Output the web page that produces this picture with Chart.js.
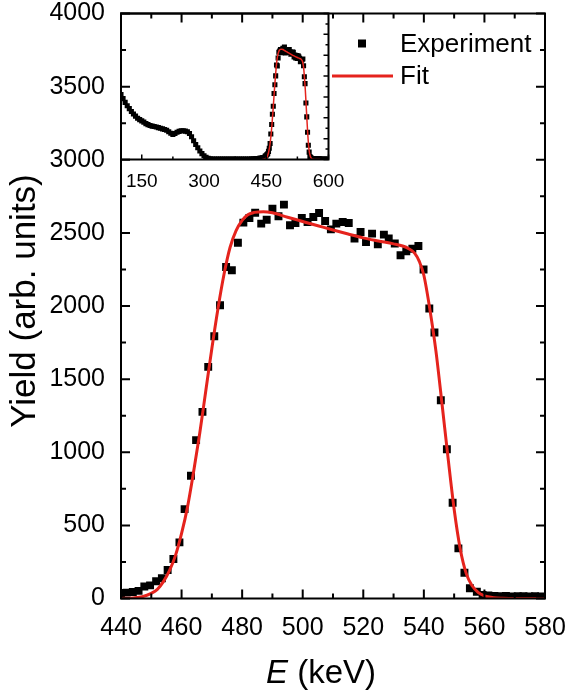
<!DOCTYPE html>
<html lang="en">
<head>
<meta charset="UTF-8">
<title>Yield vs E</title>
<script src="https://cdn.jsdelivr.net/npm/chart.js@4.4.1/dist/chart.umd.min.js"></script>
<style>
  body { margin: 0; background: #fff; }
  #wrap { position: relative; width: 568px; height: 695px; }
  #main { position: absolute; left: 0; top: 0; }
  #inset { position: absolute; left: 100px; top: 0; }
</style>
</head>
<body>
<div id="wrap">
  <canvas id="main" width="568" height="695"></canvas>
  <canvas id="inset" width="250" height="200"></canvas>
</div>
<script>
// measured points (main panel)
const expEnergy = [440.0, 441.9, 443.9, 445.8, 447.7, 449.6, 451.6, 453.5, 455.4, 457.3,
  459.3, 461.0, 463.1, 464.8, 466.9, 468.8, 470.8, 472.7, 474.7, 476.6,
  478.6, 480.4, 482.4, 484.3, 486.3, 488.1, 490.0, 492.0, 493.8, 495.8,
  497.6, 499.7, 501.6, 503.5, 505.4, 507.4, 509.3, 511.1, 513.2, 515.2,
  517.1, 519.1, 520.9, 522.9, 524.8, 526.8, 528.4, 530.4, 532.3, 534.2,
  536.2, 538.2, 539.9, 541.8, 543.5, 545.6, 547.6, 549.5, 551.4, 553.4,
  555.2, 557.5, 559.4, 561.3, 563.3, 565.2, 567.1, 569.0, 571.0, 572.9,
  574.8, 576.7, 578.7];
const expYield = [38, 40, 45, 52, 82, 90, 118, 138, 195, 270,
  384, 611, 839, 1083, 1276, 1584, 1793, 2005, 2267, 2244,
  2433, 2570, 2602, 2638, 2563, 2590, 2666, 2614, 2693, 2552,
  2567, 2602, 2574, 2608, 2636, 2581, 2524, 2563, 2574, 2567,
  2461, 2506, 2437, 2495, 2422, 2488, 2461, 2427, 2347, 2374,
  2392, 2410, 2249, 1983, 1819, 1356, 1021, 655, 343, 176,
  70, 46, 25, 20, 18, 15, 17, 14, 16, 15,
  14, 15, 14];

// fitted curve
const fitEnergy = [440, 444, 447, 450, 452, 454, 456, 458, 460, 462,
  464, 466, 468, 470, 472, 474, 476, 478, 480, 482,
  484, 487, 490, 495, 500, 505, 510, 515, 520, 525,
  530, 533, 535, 537, 538.5, 540, 542, 544, 546, 548,
  550, 552, 554, 556, 558, 560, 563, 566, 570, 580];
const fitYield = [0, 4, 12, 35, 62, 115, 190, 295, 445, 630,
  870, 1130, 1420, 1710, 1980, 2215, 2400, 2515, 2585, 2625,
  2640, 2645, 2637, 2607, 2578, 2549, 2520, 2492, 2466, 2445,
  2425, 2410, 2392, 2360, 2305, 2210, 1975, 1690, 1330, 960,
  610, 340, 170, 85, 40, 18, 6, 2, 0, 0];

// inset: the low energy part of the full spectrum
const lowEnergy = [100, 105, 110, 115, 120, 125, 130, 135, 140, 145,
  150, 155, 160, 165, 170, 175, 180, 185, 190, 195,
  200, 205, 210, 215, 220, 225, 230, 235, 240, 245,
  250, 255, 260, 265, 270, 275, 280, 285, 290, 295,
  300, 305, 310, 315, 320, 325, 330, 335, 340, 345,
  350, 355, 360, 365, 370, 375, 380, 385, 390, 395,
  400, 405, 410, 415, 420, 425, 430, 435];
const lowYield = [1560, 1460, 1370, 1290, 1220, 1150, 1090, 1040, 990, 955,
  925, 895, 860, 835, 815, 800, 790, 780, 765, 750,
  735, 720, 700, 665, 630, 600, 625, 655, 675, 690,
  690, 680, 665, 625, 545, 450, 360, 280, 205, 140,
  90, 52, 28, 16, 12, 10, 11, 9, 10, 12,
  10, 9, 11, 10, 10, 12, 11, 10, 9, 11,
  12, 13, 12, 14, 16, 20, 25, 32];
const tailEnergy = [582, 586, 590, 594, 598];
const tailYield = [12, 11, 10, 11, 10];

const mainXTicks = [440, 460, 480, 500, 520, 540, 560, 580];
const mainYTicks = [0, 500, 1000, 1500, 2000, 2500, 3000, 3500, 4000];
const insetXTicks = [150, 300, 450, 600];
const insetYTicks = [0, 500, 1000, 1500, 2000, 2500, 3000, 3500];

const FONT = '"Liberation Sans", Arial, sans-serif';
const RED = '#e5231d';

function pts(xs, ys) {
  return xs.map((x, i) => ({ x: x, y: ys[i] }));
}

function midpoints(list) {
  const out = [];
  for (let i = 0; i < list.length - 1; i++) out.push((list[i] + list[i + 1]) / 2);
  return out;
}

// keep the plot box where the reference has it (no label overhang padding)
function noOverhang(s) {
  s.paddingLeft = 0;
  s.paddingRight = 0;
  s.paddingTop = 0;
  s.paddingBottom = 0;
}

// box around the plot and inward tick marks
const frameTicks = {
  id: 'frameTicks',
  afterDatasetsDraw(chart, args, o) {
    const ctx = chart.ctx, a = chart.chartArea;
    const sx = chart.scales.x, sy = chart.scales.y;
    ctx.save();
    ctx.strokeStyle = '#000';
    ctx.lineWidth = o.tickWidth;
    ctx.beginPath();
    [[o.xTicks, o.major], [midpoints(o.xTicks), o.minor]].forEach(([vals, len]) => {
      vals.forEach(v => {
        const px = sx.getPixelForValue(v);
        if (px < a.left - 0.5 || px > a.right + 0.5) return;
        if (o.bottom) { ctx.moveTo(px, a.bottom); ctx.lineTo(px, a.bottom - len); }
        if (o.top) { ctx.moveTo(px, a.top); ctx.lineTo(px, a.top + len); }
      });
    });
    [[o.yTicks, o.major], [midpoints(o.yTicks), o.minor]].forEach(([vals, len]) => {
      vals.forEach(v => {
        const py = sy.getPixelForValue(v);
        if (py < a.top - 0.5 || py > a.bottom + 0.5) return;
        if (o.left) { ctx.moveTo(a.left, py); ctx.lineTo(a.left + len, py); }
        if (o.right) { ctx.moveTo(a.right, py); ctx.lineTo(a.right - len, py); }
      });
    });
    ctx.stroke();
    ctx.lineWidth = o.frameWidth;
    ctx.strokeRect(a.left, a.top, a.right - a.left, a.bottom - a.top);
    ctx.restore();
  }
};

// axis titles and legend of the main panel
const decorations = {
  id: 'decorations',
  afterDraw(chart) {
    const ctx = chart.ctx;
    const fit = chart.data.datasets[0], exp = chart.data.datasets[1];
    ctx.save();
    ctx.fillStyle = '#000';
    ctx.font = '35px ' + FONT;
    ctx.textAlign = 'center';
    ctx.textBaseline = 'middle';
    ctx.translate(25, 301);
    ctx.rotate(-Math.PI / 2);
    ctx.fillText('Yield (arb. units)', 0, 0);
    ctx.restore();

    ctx.save();
    ctx.fillStyle = '#000';
    ctx.textBaseline = 'alphabetic';
    const it = 'italic 33px ' + FONT, nm = '33px ' + FONT;
    ctx.font = it;
    const w1 = ctx.measureText('E').width;
    ctx.font = nm;
    const w2 = ctx.measureText(' (keV)').width;
    const x0 = 321 - (w1 + w2) / 2;
    ctx.font = it;
    ctx.fillText('E', x0, 683);
    ctx.font = nm;
    ctx.fillText(' (keV)', x0 + w1, 683);

    // legend
    ctx.fillRect(358, 39.5, 8, 8);
    ctx.strokeStyle = fit.borderColor;
    ctx.lineWidth = 3;
    ctx.beginPath();
    ctx.moveTo(332, 76);
    ctx.lineTo(393, 76);
    ctx.stroke();
    ctx.font = '26px ' + FONT;
    ctx.textBaseline = 'middle';
    ctx.fillText(exp.label, 400, 45);
    ctx.fillText(fit.label, 400, 77);
    ctx.restore();
  }
};

new Chart(document.getElementById('main'), {
  type: 'scatter',
  data: {
    datasets: [
      {
        label: 'Fit',
        data: pts(fitEnergy, fitYield),
        showLine: true,
        borderColor: RED,
        borderWidth: 3,
        pointRadius: 0,
        cubicInterpolationMode: 'monotone',
        order: 0
      },
      {
        label: 'Experiment',
        data: pts(expEnergy, expYield),
        pointStyle: 'rect',
        pointRadius: 5.6,
        backgroundColor: '#000',
        borderWidth: 0,
        order: 1
      }
    ]
  },
  options: {
    responsive: false,
    animation: false,
    devicePixelRatio: 1,
    layout: { padding: { left: 0, right: 23, top: 13.5, bottom: 0 } },
    scales: {
      x: {
        type: 'linear',
        min: 440,
        max: 580,
        afterBuildTicks: s => { s.ticks = mainXTicks.map(v => ({ value: v })); },
        afterFit: s => { s.height = 96.5; noOverhang(s); },
        grid: { display: false },
        border: { display: false },
        ticks: { color: '#000', font: { family: FONT, size: 25 }, padding: 7, maxRotation: 0, callback: v => String(v) }
      },
      y: {
        type: 'linear',
        min: 0,
        max: 4000,
        afterBuildTicks: s => { s.ticks = mainYTicks.map(v => ({ value: v })); },
        afterFit: s => { s.width = 121; noOverhang(s); },
        grid: { display: false },
        border: { display: false },
        ticks: { color: '#000', font: { family: FONT, size: 25 }, padding: 8, callback: v => String(v) }
      }
    },
    plugins: {
      legend: { display: false },
      tooltip: { enabled: false },
      frameTicks: {
        xTicks: mainXTicks, yTicks: mainYTicks,
        major: 9, minor: 5, tickWidth: 2, frameWidth: 2,
        top: true, bottom: true, left: true, right: true
      }
    }
  },
  plugins: [frameTicks, decorations]
});

new Chart(document.getElementById('inset'), {
  type: 'scatter',
  data: {
    datasets: [
      {
        label: 'Fit',
        data: pts(fitEnergy, fitYield),
        showLine: true,
        borderColor: RED,
        borderWidth: 1.5,
        pointRadius: 0,
        cubicInterpolationMode: 'monotone',
        order: 0
      },
      {
        label: 'Experiment',
        data: pts(lowEnergy, lowYield).concat(pts(expEnergy, expYield), pts(tailEnergy, tailYield)),
        pointStyle: 'rect',
        pointRadius: 3.6,
        backgroundColor: '#000',
        borderWidth: 0,
        order: 1
      }
    ]
  },
  options: {
    responsive: false,
    animation: false,
    devicePixelRatio: 1,
    layout: { padding: { left: 21, right: 21.5, top: 13.5, bottom: 0 } },
    scales: {
      x: {
        type: 'linear',
        min: 100,
        max: 600,
        afterBuildTicks: s => { s.ticks = insetXTicks.map(v => ({ value: v })); },
        afterFit: s => { s.height = 40.5; noOverhang(s); },
        grid: { display: false },
        border: { display: false },
        ticks: { color: '#000', font: { family: FONT, size: 19 }, padding: 3, maxRotation: 0 }
      },
      y: {
        type: 'linear',
        min: 0,
        max: 3500,
        afterFit: s => { s.width = 0; noOverhang(s); },
        grid: { display: false },
        border: { display: false },
        ticks: { display: false }
      }
    },
    plugins: {
      legend: { display: false },
      tooltip: { enabled: false },
      frameTicks: {
        xTicks: insetXTicks, yTicks: insetYTicks,
        major: 5, minor: 3, tickWidth: 1.5, frameWidth: 2,
        top: false, bottom: true, left: false, right: true
      }
    }
  },
  plugins: [frameTicks]
});
</script>
</body>
</html>
